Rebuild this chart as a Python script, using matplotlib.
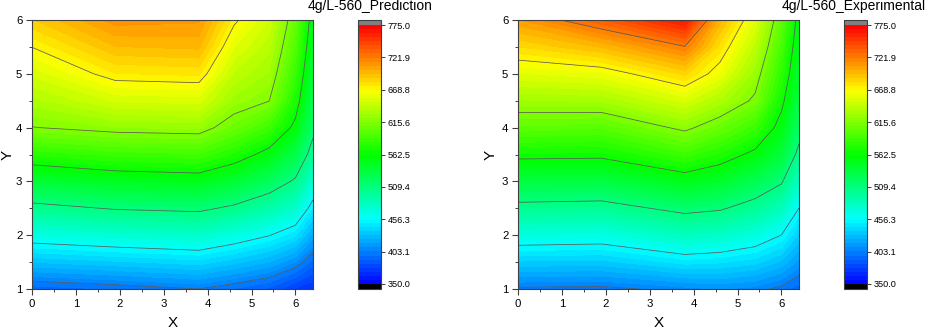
import numpy as np
import matplotlib
matplotlib.use("Agg")
import matplotlib.pyplot as plt
from matplotlib.colors import LinearSegmentedColormap

plt.rcParams['font.family'] = ['Liberation Sans', 'DejaVu Sans']

# ---- data ----
x_nodes = [0.0, 1.9, 3.8, 4.6, 5.4, 6.0, 6.4]
y_nodes = [1.0, 1.5, 2.0, 2.5, 3.0, 3.5, 4.0, 4.5, 5.0, 5.5, 6.0]

# rows = y_nodes, columns = x_nodes
pred_values = [
    [392, 397, 403, 396, 388, 375, 370],
    [430, 435, 440, 432, 423, 410, 393],
    [467, 473, 477, 468, 457, 444, 420],
    [502, 511, 514, 505, 491, 477, 448],
    [539, 548, 551, 540, 524, 506, 474],
    [577, 585, 588, 574, 555, 531, 499],
    [615, 622, 624, 605, 586, 557, 516],
    [633, 650, 652, 626, 616, 573, 528],
    [651, 675, 677, 641, 628, 584, 537],
    [669, 695, 697, 656, 638, 594, 545],
    [688, 712, 710, 672, 648, 603, 552],
]

exp_values = [
    [401, 400, 407, 410, 407, 400, 392],
    [435, 434, 446, 444, 439, 428, 414],
    [469, 467, 482, 478, 469, 456, 435],
    [502, 500, 516, 512, 499, 484, 456],
    [535, 534, 551, 543, 528, 512, 479],
    [568, 567, 586, 574, 557, 538, 502],
    [600, 597, 620, 604, 585, 554, 520],
    [628, 630, 651, 633, 612, 568, 532],
    [655, 660, 684, 661, 625, 580, 541],
    [682, 696, 721, 679, 640, 590, 548],
    [708, 735, 765, 698, 655, 600, 554],
]

titles = ["4g/L-560_Prediction", "4g/L-560_Experimental"]
cbar_ticks = [350.0, 403.1, 456.3, 509.4, 562.5, 615.6, 668.8, 721.9, 775.0]

vmin, vmax = 350.0, 775.0
fill_levels = np.linspace(vmin, vmax, 65)
line_levels = np.linspace(vmin, vmax, 9)[1:-1]

cmap = LinearSegmentedColormap.from_list(
    "origin_rainbow", ["#0000ff", "#00ffff", "#00ff00", "#ffff00", "#ff0000"])
cmap.set_over("#808080")
cmap.set_under("#000000")

W, H = 927, 329
fig = plt.figure(figsize=(W / 100, H / 100), dpi=100)

def frac(l, r, t, b):
    return [l / W, 1 - b / H, (r - l) / W, (b - t) / H]

ax_boxes = [frac(32, 313, 20, 289), frac(518, 799, 20, 289)]
cb_boxes = [frac(358, 381, 20, 289), frac(844, 867, 20, 289)]
title_x = [432, 926]
ylabel_x = [-0.085, -0.097]

X, Y = np.meshgrid(x_nodes, y_nodes)
frame_col = "#404040"

for i, vals in enumerate([pred_values, exp_values]):
    Z = np.array(vals, dtype=float)
    ax = fig.add_axes(ax_boxes[i])
    cs = ax.contourf(X, Y, Z, levels=fill_levels, cmap=cmap, extend="both")
    ax.contour(X, Y, Z, levels=line_levels, colors="#5a5a5a", linewidths=0.55)
    ax.set_xlim(0, 6.4)
    ax.set_ylim(1, 6)
    ax.set_xticks(range(0, 7))
    ax.set_yticks(range(1, 7))
    ax.set_xticks(np.arange(0.5, 6.4, 1.0), minor=True)
    ax.set_yticks(np.arange(1.5, 6.0, 1.0), minor=True)
    ax.tick_params(which="major", direction="out", length=4, width=0.8,
                   labelsize=8.2, color=frame_col, pad=3)
    ax.tick_params(which="minor", direction="out", length=2, width=0.7,
                   color=frame_col)
    for s in ax.spines.values():
        s.set_color(frame_col)
        s.set_linewidth(0.8)
    ax.set_xlabel("X", fontsize=11, va="center")
    ax.set_ylabel("Y", fontsize=11, va="center")
    ax.xaxis.set_label_coords(0.5, -0.125)
    ax.yaxis.set_label_coords(ylabel_x[i], 0.5)

    cax = fig.add_axes(cb_boxes[i])
    cb = fig.colorbar(cs, cax=cax, extendrect=True, extendfrac=0.02,
                      ticks=cbar_ticks, drawedges=False)
    cb.ax.set_yticklabels([f"{t:.1f}" for t in cbar_ticks])
    cb.ax.tick_params(direction="out", length=3, width=0.7, labelsize=6.6,
                      color=frame_col, pad=2)
    cb.outline.set_edgecolor(frame_col)
    cb.outline.set_linewidth(0.8)
    cb.ax.minorticks_off()

    fig.text(title_x[i] / W, 1 - 6 / H, titles[i], ha="right", va="center",
             fontsize=10)

fig.savefig("out.png", dpi=100)
